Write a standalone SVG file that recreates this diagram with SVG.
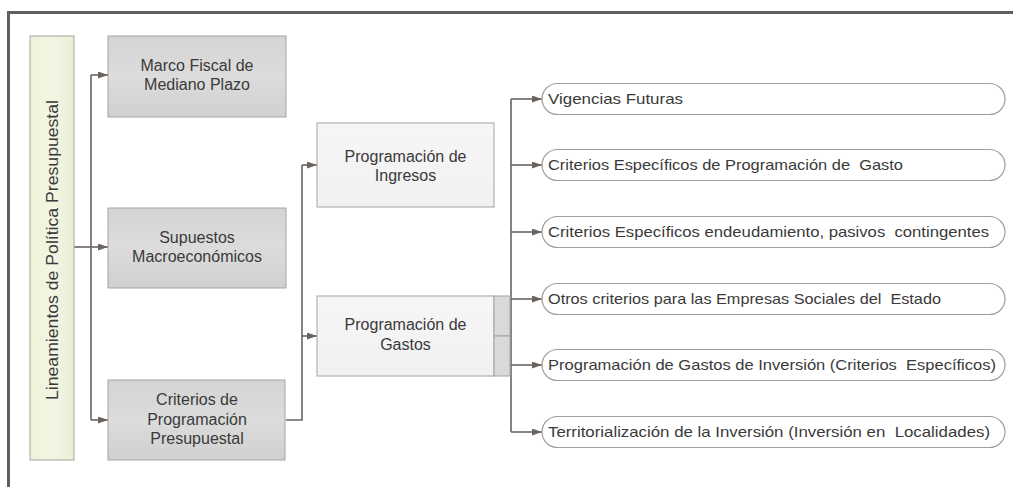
<svg xmlns="http://www.w3.org/2000/svg" width="1013" height="487" viewBox="0 0 1013 487">
<defs>
<linearGradient id="gGray" x1="0" y1="0" x2="0" y2="1">
<stop offset="0" stop-color="#d4d4d4"/>
<stop offset="0.5" stop-color="#dcdcdc"/>
<stop offset="1" stop-color="#d0d0d0"/>
</linearGradient>
<linearGradient id="gGreen" x1="0" y1="0" x2="1" y2="0">
<stop offset="0" stop-color="#eef2d8"/>
<stop offset="0.5" stop-color="#f3f6e4"/>
<stop offset="1" stop-color="#eaefd4"/>
</linearGradient>
<linearGradient id="gLight" x1="0" y1="0" x2="0" y2="1">
<stop offset="0" stop-color="#f6f6f6"/>
<stop offset="1" stop-color="#f1f1f1"/>
</linearGradient>
<marker id="arr" markerWidth="10" markerHeight="8" refX="10" refY="3.5" orient="auto" markerUnits="userSpaceOnUse">
<path d="M0,0 L10,3.5 L0,7 Z" fill="#6b6360"/>
</marker>
<style>
.t{font-family:"Liberation Sans",Arial,sans-serif;font-size:15px;fill:#3a3a3a}
.b{font-size:16px}
.c{text-anchor:middle}
.box{stroke:#a8a29f;stroke-width:1}
.pill{fill:#ffffff;stroke:#a59d98;stroke-width:1.2}
.ln{fill:none;stroke:#6b6360;stroke-width:1.6}
</style>
</defs>
<rect x="0" y="0" width="1013" height="487" fill="#ffffff"/>
<g id="frame">
<line x1="7" y1="12.5" x2="1013" y2="12.5" stroke="#5f5f5f" stroke-width="3"/>
<line x1="8.5" y1="11" x2="8.5" y2="487" stroke="#5f5f5f" stroke-width="3"/>
</g>
<g id="connectors">
<line class="ln" x1="74" y1="247" x2="91" y2="247"/>
<line class="ln" x1="91" y1="75" x2="91" y2="420"/>
<line class="ln" x1="91" y1="75" x2="108" y2="75" marker-end="url(#arr)"/>
<line class="ln" x1="91" y1="247" x2="108" y2="247" marker-end="url(#arr)"/>
<line class="ln" x1="91" y1="420" x2="108" y2="420" marker-end="url(#arr)"/>
<polyline class="ln" points="286,420 302,420 302,165"/>
<line class="ln" x1="302" y1="165" x2="317" y2="165" marker-end="url(#arr)"/>
<line class="ln" x1="302" y1="336" x2="317" y2="336" marker-end="url(#arr)"/>
<line class="ln" x1="511" y1="99" x2="511" y2="432"/>
<line class="ln" x1="511" y1="99" x2="542" y2="99" marker-end="url(#arr)"/>
<line class="ln" x1="511" y1="165" x2="542" y2="165" marker-end="url(#arr)"/>
<line class="ln" x1="511" y1="232" x2="542" y2="232" marker-end="url(#arr)"/>
<line class="ln" x1="511" y1="299" x2="542" y2="299" marker-end="url(#arr)"/>
<line class="ln" x1="511" y1="365" x2="542" y2="365" marker-end="url(#arr)"/>
<line class="ln" x1="511" y1="432" x2="542" y2="432" marker-end="url(#arr)"/>
</g>
<g id="lineamientos">
<rect class="box" x="30" y="36" width="44" height="424" fill="url(#gGreen)"/>
<text class="t c" transform="translate(58,250) rotate(-90)" style="font-size:16.5px" textLength="300" lengthAdjust="spacingAndGlyphs">Lineamientos de Política Presupuestal</text>
</g>
<g id="marco">
<rect class="box" x="108" y="36" width="178" height="81" fill="url(#gGray)"/>
<text class="t b c" x="197" y="71">Marco Fiscal de</text>
<text class="t b c" x="197" y="90">Mediano Plazo</text>
</g>
<g id="supuestos">
<rect class="box" x="108" y="208" width="178" height="80" fill="url(#gGray)"/>
<text class="t b c" x="197" y="243">Supuestos</text>
<text class="t b c" x="197" y="262">Macroeconómicos</text>
</g>
<g id="criterios">
<rect class="box" x="108" y="380" width="177" height="80" fill="url(#gGray)"/>
<text class="t b c" x="197" y="405">Criterios de</text>
<text class="t b c" x="197" y="425">Programación</text>
<text class="t b c" x="197" y="444">Presupuestal</text>
</g>
<g id="ingresos">
<rect class="box" x="317" y="123" width="177" height="84" fill="url(#gLight)"/>
<text class="t b c" x="405.5" y="162">Programación de</text>
<text class="t b c" x="405.5" y="181">Ingresos</text>
</g>
<g id="gastos">
<rect class="box" x="317" y="296" width="177" height="80" fill="url(#gLight)"/>
<rect class="box" x="494" y="296" width="16" height="40" fill="#d9d9d9"/>
<rect class="box" x="494" y="336" width="16" height="40" fill="#d9d9d9"/>
<text class="t b c" x="405.5" y="330">Programación de</text>
<text class="t b c" x="405.5" y="350">Gastos</text>
</g>
<g id="vigencias">
<rect class="pill" x="542" y="83.5" width="463" height="31" rx="15.5" ry="15.5"/>
<text class="t" x="548" y="104" textLength="135" lengthAdjust="spacingAndGlyphs">Vigencias Futuras</text>
</g>
<g id="criterios-gasto">
<rect class="pill" x="542" y="149.5" width="463" height="31" rx="15.5" ry="15.5"/>
<text class="t" x="548" y="170" xml:space="preserve" textLength="355" lengthAdjust="spacingAndGlyphs">Criterios Específicos de Programación de  Gasto</text>
</g>
<g id="criterios-endeudamiento">
<rect class="pill" x="542" y="216.5" width="463" height="31" rx="15.5" ry="15.5"/>
<text class="t" x="548" y="237" xml:space="preserve" textLength="441" lengthAdjust="spacingAndGlyphs">Criterios Específicos endeudamiento, pasivos  contingentes</text>
</g>
<g id="otros">
<rect class="pill" x="542" y="283.5" width="463" height="31" rx="15.5" ry="15.5"/>
<text class="t" x="548" y="304" xml:space="preserve" textLength="393" lengthAdjust="spacingAndGlyphs">Otros criterios para las Empresas Sociales del  Estado</text>
</g>
<g id="inversion">
<rect class="pill" x="542" y="349.5" width="463" height="31" rx="15.5" ry="15.5"/>
<text class="t" x="548" y="370" xml:space="preserve" textLength="448" lengthAdjust="spacingAndGlyphs">Programación de Gastos de Inversión (Criterios  Específicos)</text>
</g>
<g id="territorializacion">
<rect class="pill" x="542" y="416.5" width="463" height="31" rx="15.5" ry="15.5"/>
<text class="t" x="548" y="437" xml:space="preserve" textLength="442" lengthAdjust="spacingAndGlyphs">Territorialización de la Inversión (Inversión en  Localidades)</text>
</g>
</svg>
